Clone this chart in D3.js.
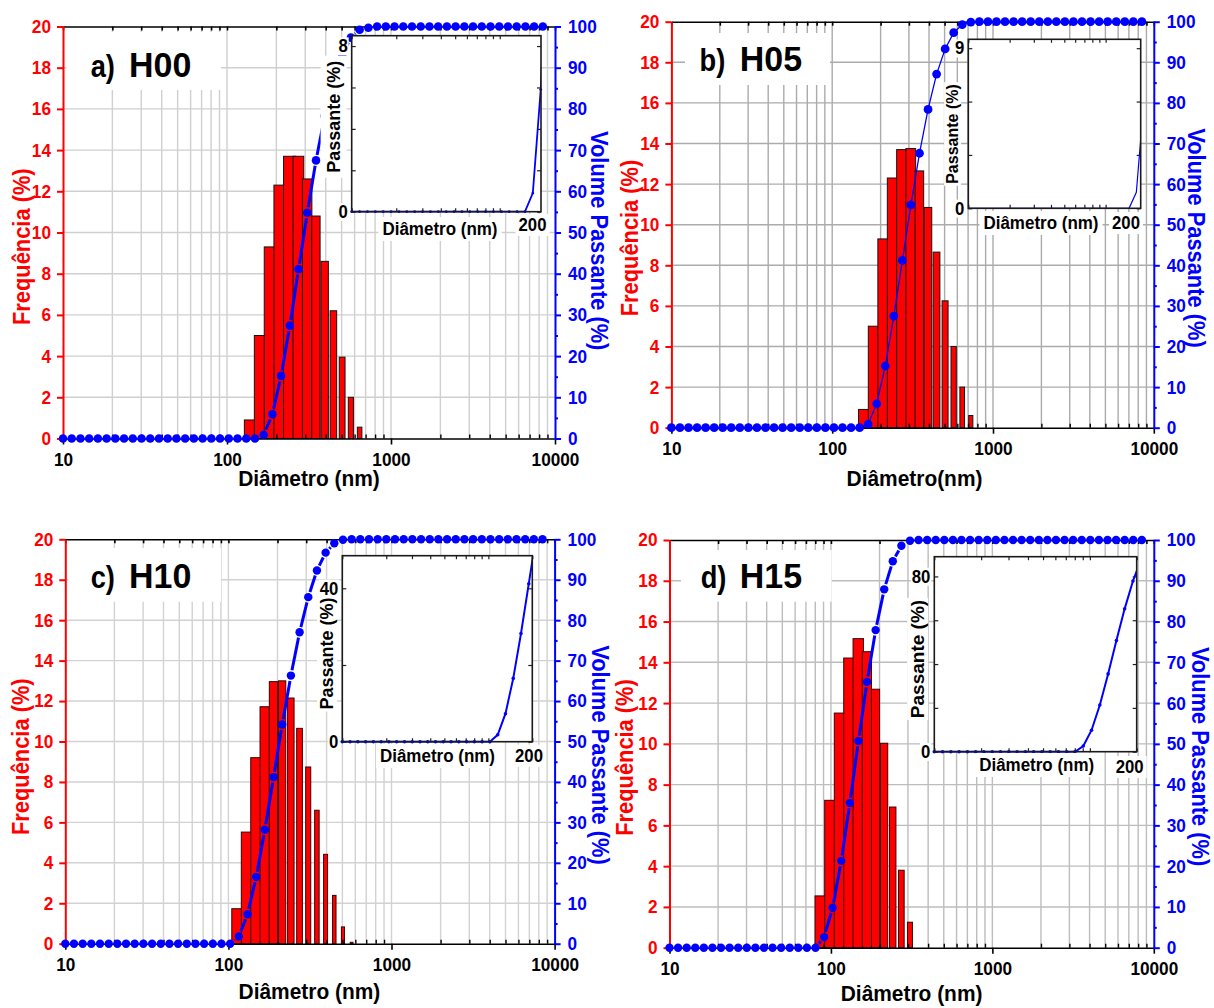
<!DOCTYPE html>
<html>
<head>
<meta charset="utf-8">
<script src="https://cdn.jsdelivr.net/npm/d3@7/dist/d3.min.js"></script>
<style>
html,body{margin:0;padding:0;background:#fff;}
svg{display:block;}
</style>
</head>
<body>
<svg id="chart" width="1214" height="1008" xmlns="http://www.w3.org/2000/svg"></svg>
<script>
// ---------------- DATA ----------------
const diameters = [10.0, 11.3, 12.78, 14.44, 16.32, 18.45, 20.85, 23.57, 26.64, 30.12,
  34.04, 38.48, 43.49, 49.16, 55.57, 62.81, 70.99, 80.24, 90.7, 102.5,
  115.9, 131.0, 148.1, 167.3, 189.2, 213.8, 241.7, 273.2, 308.8, 349.0,
  394.5, 445.9, 504.0, 569.6, 643.9, 727.8, 822.6, 929.8, 1051, 1188,
  1343, 1518, 1716, 1939, 2192, 2477, 2800, 3165, 3578, 4044,
  4571, 5167, 5840, 6601, 7461, 8433];

const freqTicks = [0, 2, 4, 6, 8, 10, 12, 14, 16, 18, 20];
const passTicks = [0, 10, 20, 30, 40, 50, 60, 70, 80, 90, 100];
const diamTicks = [10, 100, 1000, 10000];

const panelTags = ["a)", "b)", "c)", "d)"];
const sampleNames = ["H00", "H05", "H10", "H15"];
const xTitles = ["Diâmetro (nm)", "Diâmetro(nm)", "Diâmetro (nm)", "Diâmetro (nm)"];
const leftTitle = "Frequência (%)";
const rightTitle = "Volume Passante (%)";
const insetYTitle = "Passante (%)";
const insetXTitle = "Diâmetro (nm)";
const insetXEndLabel = "200";

// a) H00
const barDiamA = [148.1, 167.3, 189.2, 213.8, 241.7, 273.2, 308.8, 349.0, 394.5, 445.9, 504.0, 569.6, 643.9];
const freqA = [0.9, 5.0, 9.3, 12.3, 13.7, 13.7, 12.6, 10.8, 8.6, 6.2, 3.95, 2.0, 0.55];
const cumA = [0,0,0,0,0,0,0,0,0,0, 0,0,0,0,0,0,0,0,0,0, 0,0,0,
  0.9, 5.9, 15.2, 27.4, 41.1, 54.8, 67.5, 78.3, 86.9, 93.1, 97.3, 99.2, 99.7,
  100,100,100,100,100,100,100,100,100,100, 100,100,100,100,100,100,100,100,100,100];

// b) H05
const barDiamB = [167.3, 189.2, 213.8, 241.7, 273.2, 308.8, 349.0, 394.5, 445.9, 504.0, 569.6, 643.9, 727.8];
const freqB = [0.9, 5.0, 9.3, 12.3, 13.7, 13.75, 12.65, 10.85, 8.65, 6.25, 4.0, 2.0, 0.6];
const cumB = [0,0,0,0,0,0,0,0,0,0, 0,0,0,0,0,0,0,0,0,0, 0,0,0,
  0.9, 5.9, 15.2, 27.5, 41.2, 54.9, 67.6, 78.4, 87.1, 93.3, 97.3, 99.3, 99.9,
  100,100,100,100,100,100,100,100,100,100, 100,100,100,100,100,100,100,100,100,100];

// c) H10
const barDiamC = [115.9, 131.0, 148.1, 167.3, 189.2, 213.8, 241.7, 273.2, 308.8, 349.0, 394.5, 445.9, 504.0, 569.6];
const freqC = [1.73, 5.52, 9.2, 11.72, 12.96, 13.0, 12.15, 10.65, 8.74, 6.6, 4.42, 2.39, 0.83, 0.07];
const cumC = [0,0,0,0,0,0,0,0,0,0, 0,0,0,0,0,0,0,0,0,0,
  1.8, 7.3, 16.5, 28.2, 41.2, 54.2, 66.3, 77.0, 85.7, 92.3, 96.7, 99.0, 99.9,
  100,100,100,100,100,100,100,100,100,100, 100,100,100,100,100,100,100,100,100,100, 100,100,100];

// d) H15
const barDiamD = [90.7, 102.5, 115.9, 131.0, 148.1, 167.3, 189.2, 213.8, 241.7, 273.2, 308.8];
const freqD = [2.54, 7.23, 11.51, 14.21, 15.16, 14.52, 12.68, 10.03, 6.9, 3.8, 1.25];
const cumD = [0,0,0,0,0,0,0,0,0,0, 0,0,0,0,0,0,0,0,
  2.6, 9.8, 21.3, 35.5, 50.7, 65.2, 77.9, 87.9, 94.8, 98.6, 99.8,
  100,100,100,100,100,100,100,100,100,100, 100,100,100,100,100,100,100,100,100,100,
  100,100,100,100,100,100,100];

// inset axes (values)
const insetXDomainA = [10, 190], insetYDomainA = [0, 8.5], insetYTicksA = [0, 2, 4, 6, 8], insetYLabelsA = [0, 8];
const insetXDomainB = [10, 180], insetYDomainB = [0, 9.5], insetYTicksB = [0, 3, 6, 9], insetYLabelsB = [0, 9];
const insetXDomainC = [10, 200], insetYDomainC = [0, 48.5], insetYTicksC = [0, 20, 40], insetYLabelsC = [0, 40];
const insetXDomainD = [10, 200], insetYDomainD = [0, 89], insetYTicksD = [0, 20, 40, 60, 80], insetYLabelsD = [0, 80];

const panelData = [
  {barDiam: barDiamA, freq: freqA, cum: cumA, ixd: insetXDomainA, iyd: insetYDomainA, iyt: insetYTicksA, iyl: insetYLabelsA},
  {barDiam: barDiamB, freq: freqB, cum: cumB, ixd: insetXDomainB, iyd: insetYDomainB, iyt: insetYTicksB, iyl: insetYLabelsB},
  {barDiam: barDiamC, freq: freqC, cum: cumC, ixd: insetXDomainC, iyd: insetYDomainC, iyt: insetYTicksC, iyl: insetYLabelsC},
  {barDiam: barDiamD, freq: freqD, cum: cumD, ixd: insetXDomainD, iyd: insetYDomainD, iyt: insetYTicksD, iyl: insetYLabelsD}
];

// ---------------- LAYOUT / STYLE ----------------
const FONT = '"Liberation Sans", Arial, Helvetica, sans-serif';
const RED = "#ff0000", BLUE = "#0000ff";
const TICK_FS = 18.5, SQUEEZE = 0.93;
const layout = [
  {L:63, R:555, T:26.5, B:438.5, W:41, grid:"#cfcfcf", barStroke:"#141414", lineW:3, r:4.3, gap:true,
   tagBox:[66.5,32,221,90], tagX:90.7, nameX:129, tagY:76.7,
   leftT:[21.5,246.7], rightT:[599,240.7], botT:[309,486],
   ins:{x0:351.7, x1:541, y0:35.7, y1:211.7, dotR:1.4, lw:1.8, ytPad:5, yTitle:[333.3,116.7,18], xTitle:[440,235], lab:[532.5,231]}},
  {L:671.4, R:1153.8, T:21.7, B:427.7, W:43, grid:"#ababab", barStroke:"#141414", lineW:1.3, r:4.4, gap:false,
   tagBox:[685,33,830,85], tagX:699.5, nameX:739.8, tagY:70.7,
   leftT:[630.4,238], rightT:[1195.8,238], botT:[914.5,486],
   ins:{x0:968.3, x1:1140.7, y0:39.3, y1:208.3, dotR:0, lw:1.2, ytPad:2, yTitle:[952.5,134,16], xTitle:[1041,229], lab:[1126,229]}},
  {L:65.3, R:554.6, T:539.3, B:943.7, W:22, grid:"#d2d2d2", barStroke:"#3a0000", lineW:3, r:4.2, gap:true,
   tagBox:[68.4,548,221,601.7], tagX:90.7, nameX:129, tagY:588.3,
   leftT:[20.5,756.7], rightT:[600,755], botT:[309.4,999],
   ins:{x0:342.3, x1:532.3, y0:555.7, y1:741.7, dotR:1.8, lw:2, ytPad:2, yTitle:[326.7,653.5,18], xTitle:[437.5,762], lab:[529,761.7]}},
  {L:669.5, R:1153.8, T:540, B:947.7, W:22, grid:"#bdbdbd", barStroke:"#3a0000", lineW:3, r:4.2, gap:true,
   tagBox:[681,550,831.6,601.7], tagX:700.7, nameX:739.8, tagY:588.3,
   leftT:[624.5,757.5], rightT:[1199.8,756.6], botT:[911.6,1001],
   ins:{x0:934.3, x1:1136.7, y0:556.7, y1:751.7, dotR:1.8, lw:2, ytPad:2, yTitle:[917.5,659,19], xTitle:[1036.7,771], lab:[1129.7,773]}}
];

const svg = d3.select("#chart").attr("font-family", FONT).attr("font-weight", "bold");
const defs = svg.append("defs");

function squeeze(sel, f) {
  sel.each(function () {
    const w = this.getComputedTextLength();
    if (w > 0) d3.select(this).attr("textLength", w * f).attr("lengthAdjust", "spacingAndGlyphs");
  });
}

function styleAxis(sel, color, width, size) {
  sel.attr("font-family", null).attr("font-size", null);
  sel.select(".domain").attr("stroke", color).attr("stroke-width", width);
  sel.selectAll(".tick line").attr("stroke", color).attr("stroke-width", width);
  const tx = sel.selectAll(".tick text").attr("fill", color).attr("font-size", size)
     .attr("font-weight", "bold").attr("font-family", FONT);
  squeeze(tx, SQUEEZE);
}

function whiteBehind(g, textSel, pad) {
  const node = textSel.node();
  const bb = node.getBBox();
  g.insert("rect", () => node)
    .attr("x", bb.x - pad).attr("y", bb.y - pad + 2)
    .attr("width", bb.width + 2 * pad).attr("height", bb.height + 2 * pad - 4)
    .attr("fill", "#fff");
}

function drawPanel(i) {
  const P = layout[i], D = panelData[i];
  const g = svg.append("g");
  const x = d3.scaleLog().domain([diamTicks[0], diamTicks[diamTicks.length - 1]]).range([P.L, P.R]);
  const yF = d3.scaleLinear().domain([freqTicks[0], freqTicks[freqTicks.length - 1]]).range([P.B, P.T]);
  const yC = d3.scaleLinear().domain([passTicks[0], passTicks[passTicks.length - 1]]).range([P.B, P.T]);
  const allX = x.ticks();
  const minorX = allX.filter(v => !diamTicks.includes(v));

  // grid
  const grid = g.append("g");
  grid.selectAll("line.v").data(allX.filter(v => v > diamTicks[0] && v < diamTicks[diamTicks.length - 1]))
    .join("line").attr("class", "v")
    .attr("x1", d => x(d)).attr("x2", d => x(d)).attr("y1", P.T).attr("y2", P.B)
    .attr("stroke", P.grid).attr("stroke-width", 1.4);
  grid.selectAll("line.h").data(freqTicks.slice(1, -1))
    .join("line").attr("class", "h")
    .attr("x1", P.L).attr("x2", P.R).attr("y1", d => yF(d)).attr("y2", d => yF(d))
    .attr("stroke", P.grid).attr("stroke-width", 1.4);

  // tag
  const tb = P.tagBox;
  g.append("rect").attr("x", tb[0]).attr("y", tb[1]).attr("width", tb[2] - tb[0]).attr("height", tb[3] - tb[1]).attr("fill", "#fff");
  g.append("text").attr("x", P.tagX).attr("y", P.tagY).attr("font-size", 31).attr("fill", "#000").text(panelTags[i])
    .call(squeeze, 0.88);
  g.append("text").attr("x", P.nameX).attr("y", P.tagY).attr("font-size", 35).attr("fill", "#000").text(sampleNames[i])
    .call(squeeze, 0.97);

  // bars
  const bars = D.freq.map((f, j) => ({d: D.barDiam[j], f: f}));
  g.append("g").selectAll("rect").data(bars).join("rect")
    .attr("x", d => x(d.d - P.W / 2))
    .attr("width", d => x(d.d + P.W / 2) - x(d.d - P.W / 2))
    .attr("y", d => yF(d.f))
    .attr("height", d => yF(0) - yF(d.f))
    .attr("fill", RED).attr("stroke", P.barStroke).attr("stroke-width", 1);

  // axes
  const axB = g.append("g").attr("transform", `translate(0,${P.B})`)
    .call(d3.axisBottom(x).tickValues(diamTicks).tickSize(6).tickSizeOuter(0).tickPadding(8).tickFormat(d3.format("d")));
  styleAxis(axB, "#000", 1.6, TICK_FS);
  const axBm = g.append("g").attr("transform", `translate(0,${P.B})`)
    .call(d3.axisBottom(x).tickValues(minorX).tickSize(-4).tickSizeOuter(0).tickFormat(""));
  styleAxis(axBm, "#000", 1.4, TICK_FS); axBm.select(".domain").remove();
  const axT = g.append("g").attr("transform", `translate(0,${P.T})`)
    .call(d3.axisTop(x).tickValues(allX).tickSize(-4).tickSizeOuter(0).tickFormat(""));
  styleAxis(axT, "#000", 1.6, TICK_FS);
  const axL = g.append("g").attr("transform", `translate(${P.L},0)`)
    .call(d3.axisLeft(yF).tickValues(freqTicks).tickSize(6).tickSizeOuter(0).tickPadding(6).tickFormat(d3.format("d")));
  styleAxis(axL, RED, 2, TICK_FS);
  const axR = g.append("g").attr("transform", `translate(${P.R},0)`)
    .call(d3.axisRight(yC).tickValues(passTicks).tickSize(6).tickSizeOuter(0).tickPadding(7).tickFormat(d3.format("d")));
  styleAxis(axR, BLUE, 2, TICK_FS);
  const axRm = g.append("g").attr("transform", `translate(${P.R},0)`)
    .call(d3.axisRight(yC).tickValues(yC.ticks(20).filter(v => !passTicks.includes(v))).tickSize(3).tickSizeOuter(0).tickFormat(""));
  styleAxis(axRm, BLUE, 2, TICK_FS); axRm.select(".domain").remove();

  // cumulative curve
  const pts = diameters.map((d, k) => [x(d), yC(D.cum[k])]);
  const cg = g.append("g");
  if (P.gap) {
    const gp = P.r + 1.2;
    for (let k = 0; k < pts.length - 1; k++) {
      const [x0, y0] = pts[k], [x1, y1] = pts[k + 1];
      const dx = x1 - x0, dy = y1 - y0, len = Math.hypot(dx, dy);
      if (len <= 2 * gp) continue;
      const ux = dx / len, uy = dy / len;
      cg.append("line").attr("x1", x0 + ux * gp).attr("y1", y0 + uy * gp)
        .attr("x2", x1 - ux * gp).attr("y2", y1 - uy * gp)
        .attr("stroke", BLUE).attr("stroke-width", P.lineW).attr("stroke-linecap", "butt");
    }
  } else {
    cg.append("path").datum(pts).attr("d", d3.line()).attr("fill", "none")
      .attr("stroke", BLUE).attr("stroke-width", P.lineW);
  }
  cg.selectAll("circle").data(pts).join("circle")
    .attr("cx", d => d[0]).attr("cy", d => d[1]).attr("r", P.r).attr("fill", BLUE);

  // axis titles
  g.append("text").attr("transform", `translate(${P.leftT[0]},${P.leftT[1]}) rotate(-90)`)
    .attr("text-anchor", "middle").attr("dy", "0.35em").attr("font-size", 23).attr("fill", RED).text(leftTitle)
    .call(squeeze, 0.95);
  g.append("text").attr("transform", `translate(${P.rightT[0]},${P.rightT[1]}) rotate(90)`)
    .attr("text-anchor", "middle").attr("dy", "0.35em").attr("font-size", 23).attr("fill", BLUE).text(rightTitle)
    .call(squeeze, 0.95);
  g.append("text").attr("x", P.botT[0]).attr("y", P.botT[1]).attr("text-anchor", "middle")
    .attr("font-size", 22).attr("fill", "#000").text(xTitles[i]).call(squeeze, 0.95);

  // ---------- inset ----------
  const I = P.ins;
  const ig = g.append("g");
  const ix = d3.scaleLog().domain(D.ixd).range([I.x0, I.x1]);
  const iy = d3.scaleLinear().domain(D.iyd).range([I.y1, I.y0]);
  ig.append("rect").attr("x", I.x0).attr("y", I.y0).attr("width", I.x1 - I.x0).attr("height", I.y1 - I.y0).attr("fill", "#fff");
  const cid = "inclip" + i;
  defs.append("clipPath").attr("id", cid).append("rect")
    .attr("x", I.x0).attr("y", I.y0 - 1).attr("width", I.x1 - I.x0).attr("height", I.y1 - I.y0 + 2);

  // ticks
  const ixt = ix.ticks();
  const itg = ig.append("g");
  const bT = itg.append("g").attr("transform", `translate(0,${I.y1})`)
    .call(d3.axisBottom(ix).tickValues(ixt).tickSize(-3.5).tickSizeOuter(0).tickFormat(""));
  styleAxis(bT, "#222", 1.2, 12); bT.select(".domain").remove();
  const tT = itg.append("g").attr("transform", `translate(0,${I.y0})`)
    .call(d3.axisTop(ix).tickValues(ixt).tickSize(-3.5).tickSizeOuter(0).tickFormat(""));
  styleAxis(tT, "#222", 1.2, 12); tT.select(".domain").remove();
  const lT = itg.append("g").attr("transform", `translate(${I.x0},0)`)
    .call(d3.axisLeft(iy).tickValues(D.iyt).tickSize(-4).tickSizeOuter(0).tickFormat(""));
  styleAxis(lT, "#222", 1.2, 12); lT.select(".domain").remove();
  const rT = itg.append("g").attr("transform", `translate(${I.x1},0)`)
    .call(d3.axisRight(iy).tickValues(D.iyt).tickSize(-4).tickSizeOuter(0).tickFormat(""));
  styleAxis(rT, "#222", 1.2, 12); rT.select(".domain").remove();

  // curve
  const ipts = diameters.map((d, k) => [ix(d), iy(D.cum[k])]);
  ig.append("path").datum(ipts).attr("d", d3.line()).attr("fill", "none")
    .attr("stroke", BLUE).attr("stroke-width", I.lw).attr("clip-path", `url(#${cid})`);
  if (I.dotR > 0) {
    ig.append("g").selectAll("circle")
      .data(diameters.map((d, k) => ({d: d, c: D.cum[k]})).filter(o => o.d >= D.ixd[0] && o.d <= D.ixd[1] && o.c <= D.iyd[1]))
      .join("circle").attr("cx", o => ix(o.d)).attr("cy", o => iy(o.c)).attr("r", I.dotR).attr("fill", BLUE);
  }
  // frame
  ig.append("rect").attr("x", I.x0).attr("y", I.y0).attr("width", I.x1 - I.x0).attr("height", I.y1 - I.y0)
    .attr("fill", "none").attr("stroke", "#1a1a1a").attr("stroke-width", 1.6);

  // titles (white-backed)
  const yg = ig.append("g").attr("transform", `translate(${I.yTitle[0]},${I.yTitle[1]}) rotate(-90)`);
  const yt = yg.append("text").attr("text-anchor", "middle").attr("dy", "0.35em")
    .attr("font-size", I.yTitle[2]).attr("fill", "#000").text(insetYTitle);
  whiteBehind(yg, yt, I.ytPad);
  const xt = ig.append("text").attr("x", I.xTitle[0]).attr("y", I.xTitle[1]).attr("text-anchor", "middle")
    .attr("font-size", 17.5).attr("fill", "#000").text(insetXTitle).call(squeeze, 0.97);
  whiteBehind(ig, xt, 4);
  const lt = ig.append("text").attr("x", I.lab[0]).attr("y", I.lab[1]).attr("text-anchor", "middle")
    .attr("font-size", 18).attr("fill", "#000").text(insetXEndLabel).call(squeeze, SQUEEZE);
  whiteBehind(ig, lt, 3);
  // y tick labels on top
  D.iyl.forEach(v => {
    const t = ig.append("text").attr("x", I.x0 - 4).attr("y", iy(v)).attr("dy", "0.35em")
      .attr("text-anchor", "end").attr("font-size", 18).attr("fill", "#000").text(d3.format("d")(v))
      .call(squeeze, SQUEEZE);
    whiteBehind(ig, t, 1);
  });
}

for (let i = 0; i < 4; i++) drawPanel(i);
</script>
</body>
</html>
